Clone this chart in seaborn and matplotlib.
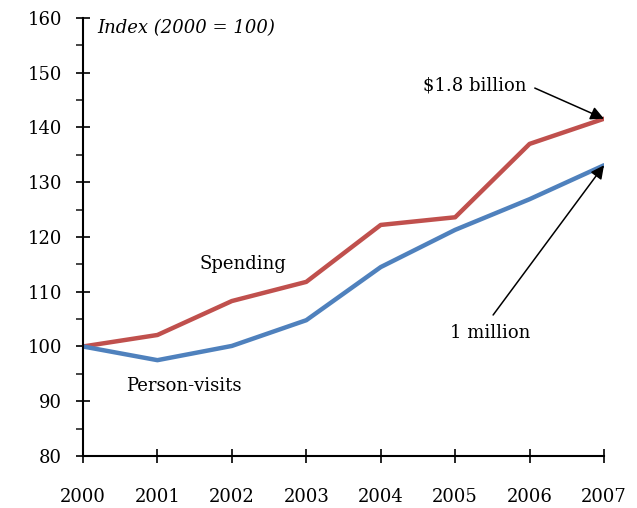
import pandas as pd
import matplotlib.pyplot as plt
import seaborn as sns

# Index values (2000 = 100)
years = [2000, 2001, 2002, 2003, 2004, 2005, 2006, 2007]
spending = [100, 102.1, 108.3, 111.8, 122.2, 123.6, 137.0, 141.6]
person_visits = [100, 97.5, 100.1, 104.8, 114.5, 121.3, 126.9, 133.1]

df = pd.DataFrame({
    'Year': years * 2,
    'Index': spending + person_visits,
    'Series': ['Spending'] * len(years) + ['Person-visits'] * len(years),
})

sns.set_style("ticks")
plt.rcParams['font.family'] = ['DejaVu Serif']
plt.rcParams['text.color'] = 'black'

fig = plt.figure(figsize=(6.37, 5.08), dpi=100)
ax = fig.add_axes([0.1303, 0.1024, 0.8179, 0.8622])

sns.lineplot(data=df, x='Year', y='Index', hue='Series',
             palette={'Spending': '#C0504D', 'Person-visits': '#4F81BD'},
             linewidth=3.2, legend=False, ax=ax)

ax.set_xlim(2000, 2007)
ax.set_ylim(80, 160)
ax.set_xticks(years)
ax.set_yticks(range(80, 161, 10))
ax.set_yticks(range(85, 160, 10), minor=True)
ax.set_xlabel('')
ax.set_ylabel('')

sns.despine(ax=ax)
for s in ['left', 'bottom']:
    ax.spines[s].set_linewidth(1.5)
    ax.spines[s].set_color('black')

ax.tick_params(axis='both', which='major', direction='inout', length=10,
               width=1.2, colors='black', labelsize=13)
ax.tick_params(axis='x', which='major', pad=18)
ax.tick_params(axis='y', which='major', pad=10)
ax.tick_params(axis='y', which='minor', direction='out', length=5, width=1.2)

ax.text(2000.19, 158.2, 'Index (2000 = 100)', fontsize=13, style='italic',
        va='center', ha='left')
ax.text(2001.57, 115.1, 'Spending', fontsize=13, va='center', ha='left')
ax.text(2000.58, 92.8, 'Person-visits', fontsize=13, va='center', ha='left')

ax.text(2005.965, 147.6, '$1.8 billion', fontsize=13, va='center', ha='right')
ax.text(2005.47, 102.4, '1 million', fontsize=13, va='center', ha='center')

arrow = dict(arrowstyle='-|>', color='black', lw=1.1,
             mutation_scale=20, shrinkA=0, shrinkB=0)
ax.annotate('', xy=(2007, spending[-1]), xytext=(2006.07, 147.2),
            arrowprops=arrow)
ax.annotate('', xy=(2007, person_visits[-1]), xytext=(2005.51, 105.75),
            arrowprops=arrow)

fig.savefig('out.png', dpi=100)
